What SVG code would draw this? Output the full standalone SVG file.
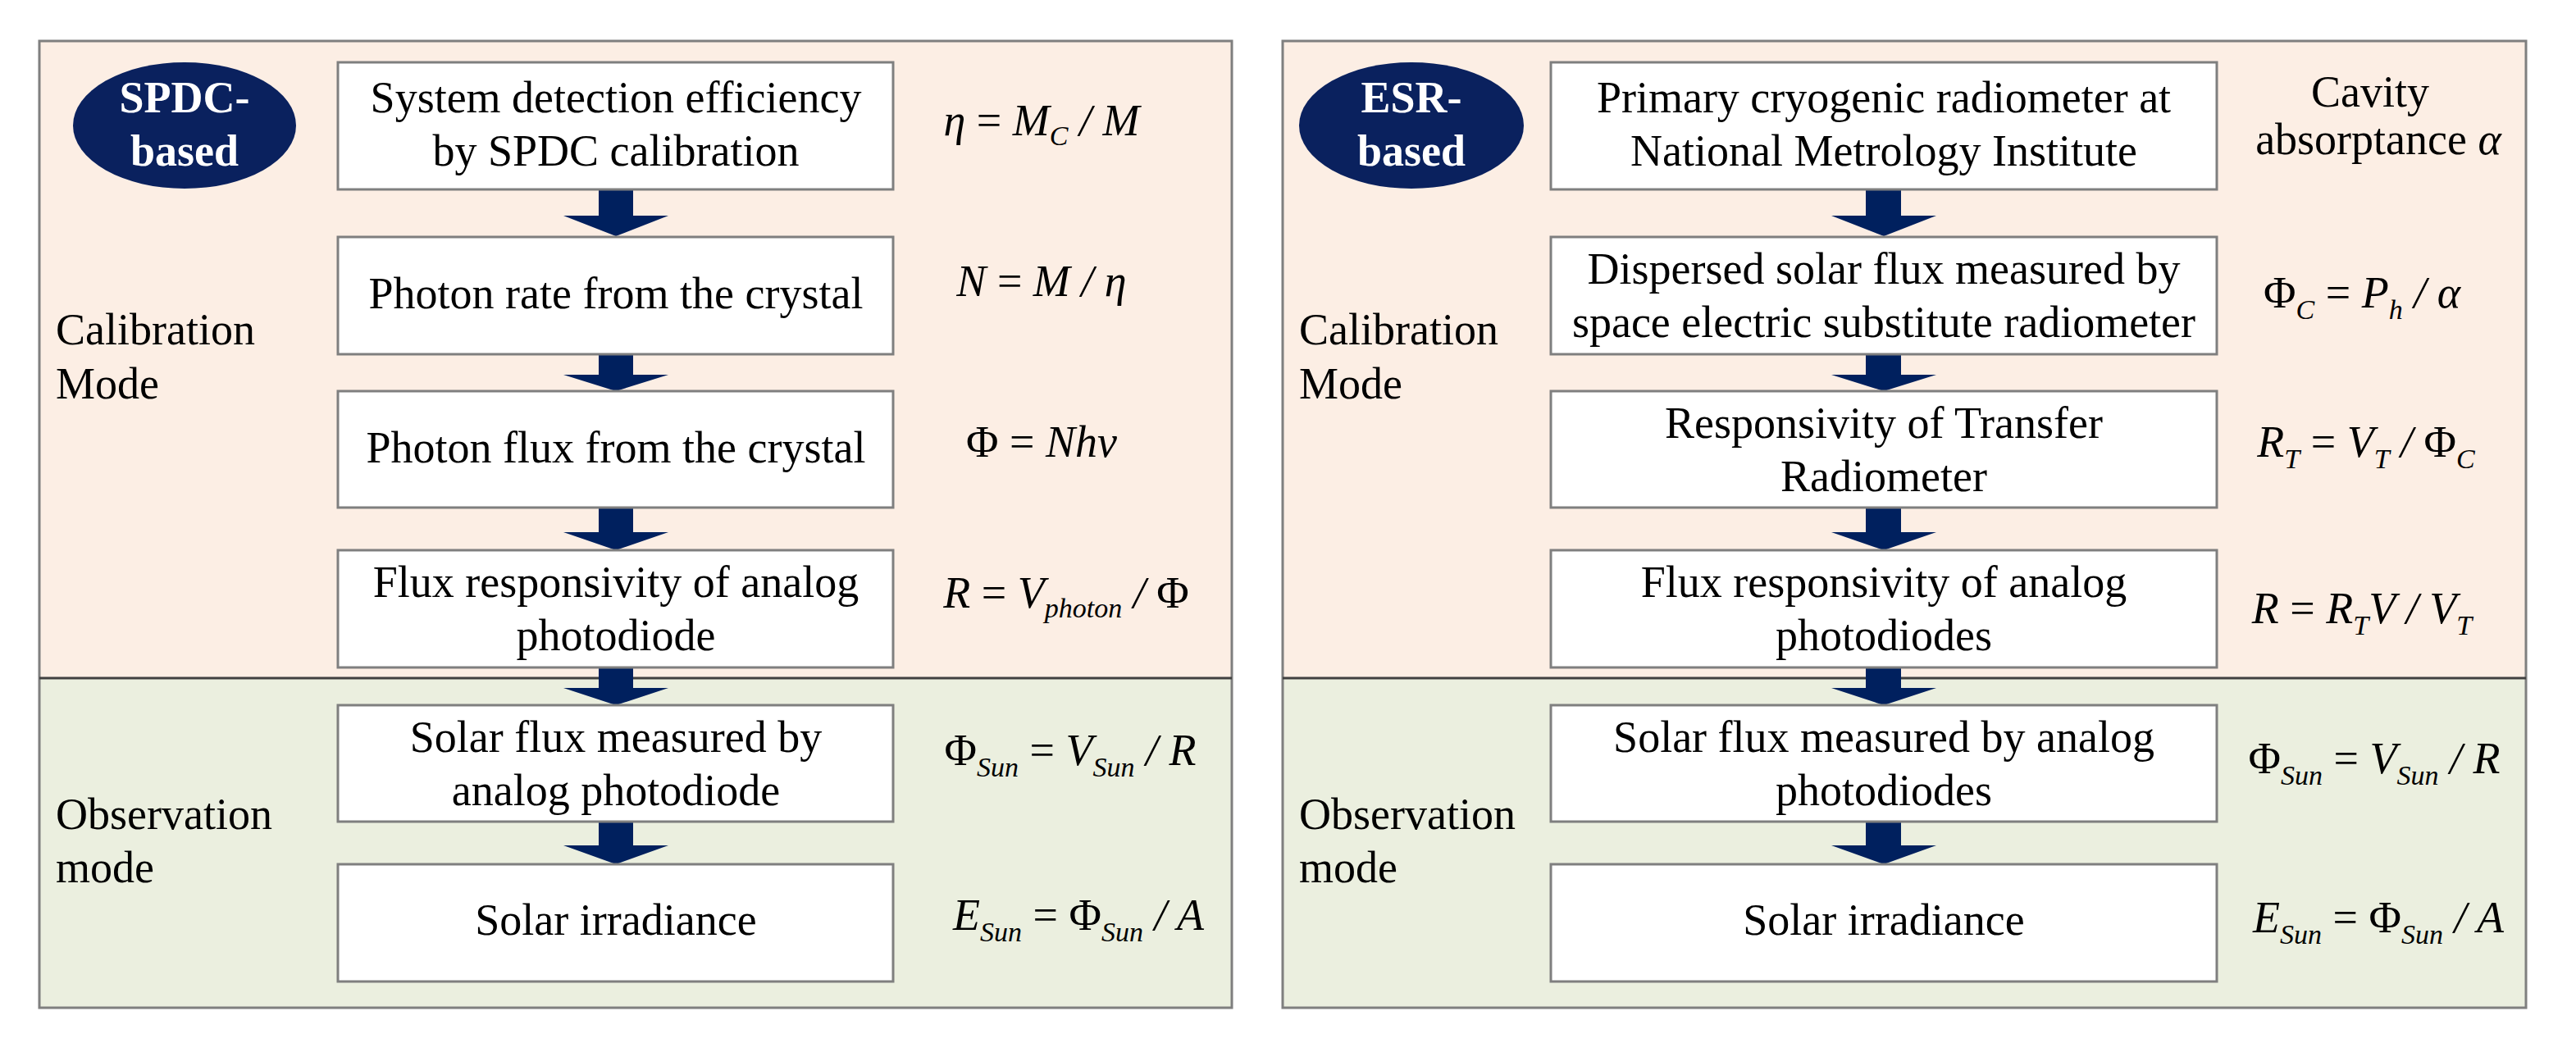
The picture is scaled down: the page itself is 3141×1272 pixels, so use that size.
<svg xmlns="http://www.w3.org/2000/svg" width="3141" height="1272" viewBox="0 0 3141 1272">
<style>
.cal{fill:#FCEEE4;stroke:none}
.obs{fill:#EBEFDF;stroke:none}
.frame{fill:none;stroke:#7F7F7F;stroke-width:3}
.div{stroke:#404040;stroke-width:3}
.box{fill:#fff;stroke:#7F7F7F;stroke-width:3}
.t{font-family:"Liberation Serif","Times New Roman",serif;font-size:54px;fill:#000;text-anchor:middle}
.lab{font-family:"Liberation Serif","Times New Roman",serif;font-size:54px;fill:#000}
.f{font-family:"Liberation Serif","Times New Roman",serif;font-size:54px;font-style:italic;fill:#000;text-anchor:middle}
.sub{font-size:34px}
.up{font-style:normal}
.badge{fill:#0A215E}
.bt{font-family:"Liberation Serif","Times New Roman",serif;font-size:54px;font-weight:bold;fill:#fff;text-anchor:middle}
.arr{fill:#00205E}
</style>
<g id="bg-left">
<rect class="cal" x="48" y="50" width="1454" height="777"/>
<rect class="obs" x="48" y="827" width="1454" height="402"/>
<rect class="frame" x="48" y="50" width="1454" height="1179"/>
<line class="div" x1="48" y1="827" x2="1502" y2="827"/>
<text class="lab" x="68" y="420">Calibration</text>
<text class="lab" x="68" y="486">Mode</text>
<text class="lab" x="68" y="1011">Observation</text>
<text class="lab" x="68" y="1076">mode</text>
</g>
<g id="bg-right">
<rect class="cal" x="1564" y="50" width="1516" height="777"/>
<rect class="obs" x="1564" y="827" width="1516" height="402"/>
<rect class="frame" x="1564" y="50" width="1516" height="1179"/>
<line class="div" x1="1564" y1="827" x2="3080" y2="827"/>
<text class="lab" x="1584" y="420">Calibration</text>
<text class="lab" x="1584" y="486">Mode</text>
<text class="lab" x="1584" y="1011">Observation</text>
<text class="lab" x="1584" y="1076">mode</text>
</g>
<g id="badge-spdc"><ellipse class="badge" cx="225" cy="153" rx="136" ry="77"/>
<text class="bt" x="225" y="137">SPDC-</text><text class="bt" x="225" y="202">based</text></g>
<g id="badge-esr"><ellipse class="badge" cx="1721" cy="153" rx="137" ry="77"/>
<text class="bt" x="1721" y="137">ESR-</text><text class="bt" x="1721" y="202">based</text></g>

<g id="connectors">
<path class="arr" d="M730 231H772V263H815L751 288L687 263H730Z"/>
<path class="arr" d="M730 432H772V457H815L751 477L687 457H730Z"/>
<path class="arr" d="M730 619H772V649H815L751 671L687 649H730Z"/>
<path class="arr" d="M730 814H772V839H815L751 860L687 839H730Z"/>
<path class="arr" d="M730 1002H772V1031H815L751 1054L687 1031H730Z"/>
<path class="arr" d="M2275 231H2318V263H2361L2297 288L2233 263H2275Z"/>
<path class="arr" d="M2275 432H2318V457H2361L2297 477L2233 457H2275Z"/>
<path class="arr" d="M2275 619H2318V649H2361L2297 671L2233 649H2275Z"/>
<path class="arr" d="M2275 814H2318V839H2361L2297 860L2233 839H2275Z"/>
<path class="arr" d="M2275 1002H2318V1031H2361L2297 1054L2233 1031H2275Z"/>
</g>

<g id="l1"><rect class="box" x="412" y="76" width="677" height="155"/><text class="t" x="751" y="137">System detection efficiency</text><text class="t" x="751" y="202">by SPDC calibration</text></g>
<g id="l2"><rect class="box" x="412" y="289" width="677" height="143"/><text class="t" x="751" y="376">Photon rate from the crystal</text></g>
<g id="l3"><rect class="box" x="412" y="477" width="677" height="142"/><text class="t" x="751" y="564">Photon flux from the crystal</text></g>
<g id="l4"><rect class="box" x="412" y="671" width="677" height="143"/><text class="t" x="751" y="728">Flux responsivity of analog</text><text class="t" x="751" y="793">photodiode</text></g>
<g id="l5"><rect class="box" x="412" y="860" width="677" height="142"/><text class="t" x="751" y="917">Solar flux measured by</text><text class="t" x="751" y="982">analog photodiode</text></g>
<g id="l6"><rect class="box" x="412" y="1054" width="677" height="143"/><text class="t" x="751" y="1140">Solar irradiance</text></g>

<g id="r1"><rect class="box" x="1891" y="76" width="812" height="155"/><text class="t" x="2297" y="137">Primary cryogenic radiometer at</text><text class="t" x="2297" y="202">National Metrology Institute</text></g>
<g id="r2"><rect class="box" x="1891" y="289" width="812" height="143"/><text class="t" x="2297" y="346">Dispersed solar flux measured by</text><text class="t" x="2297" y="411">space electric substitute  radiometer</text></g>
<g id="r3"><rect class="box" x="1891" y="477" width="812" height="142"/><text class="t" x="2297" y="534">Responsivity of Transfer</text><text class="t" x="2297" y="599">Radiometer</text></g>
<g id="r4"><rect class="box" x="1891" y="671" width="812" height="143"/><text class="t" x="2297" y="728">Flux responsivity of analog</text><text class="t" x="2297" y="793">photodiodes</text></g>
<g id="r5"><rect class="box" x="1891" y="860" width="812" height="142"/><text class="t" x="2297" y="917">Solar flux measured by analog</text><text class="t" x="2297" y="982">photodiodes</text></g>
<g id="r6"><rect class="box" x="1891" y="1054" width="812" height="143"/><text class="t" x="2297" y="1140">Solar irradiance</text></g>

<g id="formulas-left">
<text class="f" x="1270" y="165">η <tspan class="up">=</tspan> M<tspan class="sub" dy="12">C</tspan><tspan dy="-12"> / M</tspan></text>
<text class="f" x="1270" y="361">N <tspan class="up">=</tspan> M / η</text>
<text class="f" x="1270" y="557"><tspan class="up">Φ =</tspan> Nhν</text>
<text class="f" x="1300" y="741">R <tspan class="up">=</tspan> V<tspan class="sub" dy="12">photon</tspan><tspan dy="-12"> / </tspan><tspan class="up">Φ</tspan></text>
<text class="f" x="1305" y="933"><tspan class="up">Φ</tspan><tspan class="sub" dy="14">Sun</tspan><tspan dy="-14" class="up"> = </tspan>V<tspan class="sub" dy="14">Sun</tspan><tspan dy="-14"> / R</tspan></text>
<text class="f" x="1315" y="1134">E<tspan class="sub" dy="14">Sun</tspan><tspan dy="-14" class="up"> = Φ</tspan><tspan class="sub" dy="14">Sun</tspan><tspan dy="-14"> / A</tspan></text>
</g>
<g id="formulas-right">
<text class="lab" x="2890" y="130" font-size="46" text-anchor="middle">Cavity</text>
<text class="lab" x="2900" y="188" font-size="46" text-anchor="middle">absorptance <tspan font-style="italic">α</tspan></text>
<text class="f" x="2880" y="375"><tspan class="up">Φ</tspan><tspan class="sub" dy="14">C</tspan><tspan dy="-14" class="up"> = </tspan>P<tspan class="sub" dy="14">h</tspan><tspan dy="-14"> / α</tspan></text>
<text class="f" x="2885" y="557">R<tspan class="sub" dy="14">T</tspan><tspan dy="-14" class="up"> = </tspan>V<tspan class="sub" dy="14">T</tspan><tspan dy="-14"> / </tspan><tspan class="up">Φ</tspan><tspan class="sub" dy="14">C</tspan></text>
<text class="f" x="2880" y="760">R <tspan class="up">=</tspan> R<tspan class="sub" dy="14">T</tspan><tspan dy="-14">V / V</tspan><tspan class="sub" dy="14">T</tspan></text>
<text class="f" x="2895" y="943"><tspan class="up">Φ</tspan><tspan class="sub" dy="14">Sun</tspan><tspan dy="-14" class="up"> = </tspan>V<tspan class="sub" dy="14">Sun</tspan><tspan dy="-14"> / R</tspan></text>
<text class="f" x="2900" y="1137">E<tspan class="sub" dy="14">Sun</tspan><tspan dy="-14" class="up"> = Φ</tspan><tspan class="sub" dy="14">Sun</tspan><tspan dy="-14"> / A</tspan></text>
</g>
</svg>
